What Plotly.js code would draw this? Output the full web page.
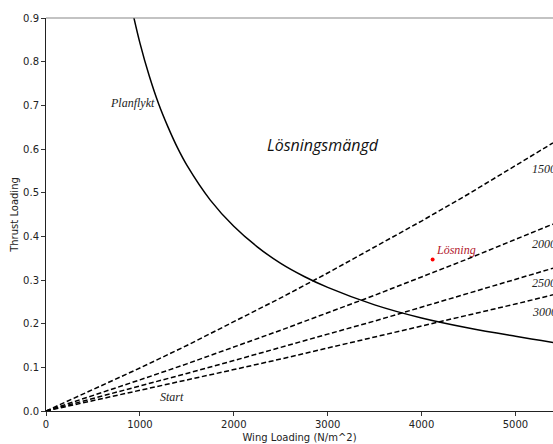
<!DOCTYPE html>
<html>
<head>
<meta charset="utf-8">
<script src="https://cdn.plot.ly/plotly-3.0.1.min.js"></script>
<style>html,body{margin:0;padding:0;background:#fff;}#chart{width:553px;height:444px;}</style>
</head>
<body>
<div id="chart"></div>
<script>
// Start (take-off) lines, x = wing loading
const startX = [0, 500, 1000, 1500, 2000, 2500, 3000, 3500, 4000, 4500, 5000, 5400];
const start1500 = [0, 0.0483, 0.0984, 0.150, 0.204, 0.259, 0.316, 0.375, 0.435, 0.497, 0.561, 0.614];
const start2000 = [0, 0.0352, 0.0712, 0.108, 0.146, 0.185, 0.225, 0.265, 0.307, 0.349, 0.393, 0.428];
const start2500 = [0, 0.0283, 0.0569, 0.086, 0.1155, 0.145, 0.176, 0.206, 0.2375, 0.269, 0.301, 0.327];
const start3000 = [0, 0.0233, 0.0469, 0.0707, 0.0948, 0.119, 0.144, 0.169, 0.194, 0.2195, 0.245, 0.266];
const startLabels = ['1500', '2000', '2500', '3000'];
const startLabelY = [0.555, 0.382, 0.293, 0.226];

// Planflykt (level flight) curve
const planX = [900, 1000, 1100, 1200, 1300, 1400, 1500, 1750, 2000, 2250, 2500, 2750, 3000, 3500, 4000, 4500, 5000, 5400];
const planY = [0.935, 0.843, 0.767, 0.703, 0.650, 0.603, 0.563, 0.483, 0.423, 0.376, 0.338, 0.308, 0.283, 0.243, 0.213, 0.190, 0.171, 0.157];

// Solution point
const solX = [4118];
const solY = [0.347];

const dash = '5px,2.6px';
const serifItalic = {family: 'Liberation Serif, DejaVu Serif, serif', size: 12, color: '#222'};

const traces = [
  {x: startX, y: start1500, mode: 'lines', line: {color: '#000', width: 1.5, dash: dash}, hoverinfo: 'skip'},
  {x: startX, y: start2000, mode: 'lines', line: {color: '#000', width: 1.5, dash: dash}, hoverinfo: 'skip'},
  {x: startX, y: start2500, mode: 'lines', line: {color: '#000', width: 1.5, dash: dash}, hoverinfo: 'skip'},
  {x: startX, y: start3000, mode: 'lines', line: {color: '#000', width: 1.5, dash: dash}, hoverinfo: 'skip'},
  {x: planX, y: planY, mode: 'lines', line: {color: '#000', width: 1.5, shape: 'spline'}, hoverinfo: 'skip'},
  {x: solX, y: solY, mode: 'markers', marker: {color: '#ff0000', size: 4}, hoverinfo: 'skip'}
];

const annotations = [
  {x: 1180, y: 0.705, xref: 'x', yref: 'y', text: '<i>Planflykt</i>', showarrow: false, xanchor: 'right', yanchor: 'middle', font: serifItalic},
  {x: 1340, y: 0.032, xref: 'x', yref: 'y', text: '<i>Start</i>', showarrow: false, xanchor: 'center', yanchor: 'middle', font: serifItalic},
  {x: 2950, y: 0.61, xref: 'x', yref: 'y', text: '<i>Lösningsmängd</i>', showarrow: false, xanchor: 'center', yanchor: 'middle', font: {family: 'Open Sans, Noto Sans, sans-serif', size: 16, color: '#111'}},
  {x: solX[0] + 10, y: 0.368, xref: 'x', yref: 'y', text: '<i>Lösning</i>', showarrow: false, xanchor: 'left', yanchor: 'middle', font: {family: 'Liberation Serif, DejaVu Serif, serif', size: 12, color: '#b2182b'}}
];
startLabels.forEach((t, i) => {
  annotations.push({x: 5160, y: startLabelY[i], xref: 'x', yref: 'y', text: '<i>' + t + '</i>', showarrow: false, xanchor: 'left', yanchor: 'middle', font: serifItalic});
});

const layout = {
  width: 553, height: 444,
  margin: {l: 46, r: 0, t: 18, b: 33},
  paper_bgcolor: '#fff', plot_bgcolor: '#fff',
  showlegend: false,
  font: {family: 'DejaVu Sans, sans-serif', size: 10, color: '#222'},
  xaxis: {
    range: [0, 5400], showgrid: false, zeroline: false,
    tickvals: [0, 1000, 2000, 3000, 4000, 5000], ticktext: ['0', '1000', '2000', '3000', '4000', '5000'],
    ticks: 'outside', ticklen: 4, tickwidth: 1, tickcolor: '#333',
    showline: true, linecolor: '#222', linewidth: 1,
    tickfont: {family: 'DejaVu Sans, sans-serif', size: 10, color: '#222'},
    title: {text: 'Wing Loading (N/m^2)', font: {family: 'DejaVu Sans, sans-serif', size: 10, color: '#222'}, standoff: 4}
  },
  yaxis: {
    range: [0, 0.9], showgrid: false, zeroline: false,
    tickvals: [0, 0.1, 0.2, 0.3, 0.4, 0.5, 0.6, 0.7, 0.8, 0.9],
    ticktext: ['0.0', '0.1', '0.2', '0.3', '0.4', '0.5', '0.6', '0.7', '0.8', '0.9'],
    ticks: 'outside', ticklen: 4, tickwidth: 1, tickcolor: '#333',
    showline: true, linecolor: '#222', linewidth: 1,
    tickfont: {family: 'DejaVu Sans, sans-serif', size: 10, color: '#222'},
    title: {text: 'Thrust Loading', font: {family: 'DejaVu Sans, sans-serif', size: 10, color: '#222'}, standoff: 2}
  },
  shapes: [
    {type: 'line', xref: 'paper', yref: 'paper', x0: 0, x1: 1, y0: 1, y1: 1, line: {color: '#888', width: 1.2}}
  ],
  annotations: annotations
};

Plotly.newPlot('chart', traces, layout, {displayModeBar: false, staticPlot: true});
</script>
</body>
</html>
